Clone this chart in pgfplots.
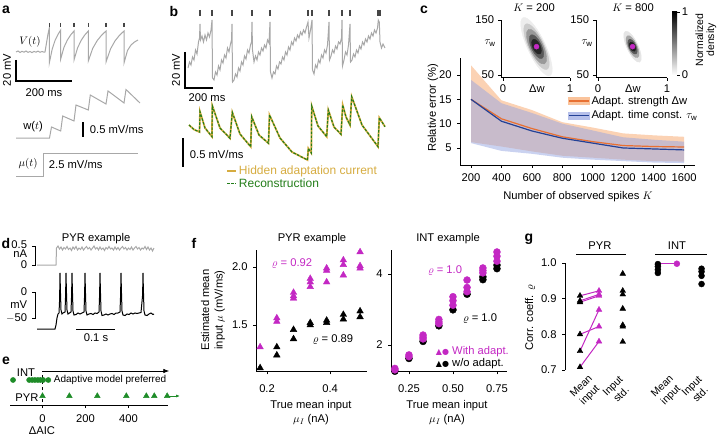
\documentclass[border=0pt]{standalone}
\usepackage{pgfplots}
\pgfplotsset{compat=1.18}
\usepackage{fontspec}
\setmainfont{Liberation Sans}
\newfontfamily\dejavu{DejaVu Sans}
\usetikzlibrary{arrows.meta}
\definecolor{tgray}{RGB}{168,168,168}
\definecolor{tickgray}{RGB}{70,70,70}
\definecolor{mag}{RGB}{195,40,195}
\definecolor{egreen}{RGB}{30,140,40}
\definecolor{bgreen}{RGB}{35,125,25}
\definecolor{byellow}{RGB}{214,172,64}
\definecolor{orL}{RGB}{232,112,50}
\definecolor{orB}{RGB}{250,195,155}
\definecolor{blL}{RGB}{35,65,150}
\definecolor{blB}{RGB}{150,165,225}
\pgfplotsset{
  /pgf/number format/assume math mode=true,
  /pgf/number format/1000 sep={},
  myax/.style={scale only axis, clip=false, tick align=outside, major tick length=3bp,
    every tick/.style={black, line width=0.6bp}, axis line style={line width=0.6bp},
    axis x line*=bottom, axis y line*=left},
}
\newcommand{\plab}[3]{\node[font=\fontsize{14bp}{16bp}\selectfont\bfseries] at (#1,#2) {#3};}
\newcommand{\efont}{\fontsize{10bp}{12bp}\selectfont}
\newcommand{\bfont}{\fontsize{12bp}{14bp}\selectfont}
\newcommand{\gfont}{\fontsize{10.5bp}{12bp}\selectfont}
\begin{document}
\fontsize{11.2bp}{13.4bp}\selectfont
\begin{tikzpicture}[x=1bp,y=1bp]

% ================= canvas (pixel coordinates) =================
\begin{axis}[at={(0bp,0bp)}, anchor=south west, scale only axis, width=717bp, height=436bp,
  xmin=0, xmax=717, ymin=0, ymax=436, y dir=reverse, axis lines=none, clip=false]
% ---- panel labels
\plab{6}{10}{a}\plab{174}{11}{b}\plab{424}{10}{c}\plab{6}{243}{d}\plab{6}{361}{e}\plab{194}{243}{f}\plab{529}{239}{g}
% ---- panel a
\addplot[tgray, line width=1bp] coordinates {(16,52)(18,51)(20,52.5)(22,51.3)(24,52.2)(26,51)(28,52.4)(30,51.5)(32,52.6)(34,51.4)(36,52.2)(38,51.1)(40,52.3)(42,51.5)(44,52.2)(45,52)(46,46)(47,40)(48,34)(49.3,28)(49.3,63)(52.2,49.1)(55,40.6)(57.9,34.6)(60.7,30)(60.7,59)(64,47.2)(67.4,40)(70.7,34.9)(74,31)(74,60)(77.6,47.8)(81.2,40.3)(84.7,35.1)(88.3,31)(88.3,61)(92.7,48.4)(97.2,40.6)(101.6,35.2)(106,31)(106,62)(110.5,49)(115,40.9)(119.5,35.3)(124,31)(124,63)(127.5,50.5)(131,45)(134.5,42)(138,40)};
\addplot[only marks, mark=|, mark size=2.3bp, mark options={line width=1.2bp, draw=tickgray}] coordinates {(49.3,25.2)(60.7,25.2)(74,25.2)(88.3,25.2)(106,25.2)(124,25.2)};
\addplot[tgray, line width=1bp] coordinates {(16,138)(49.5,138)(51.5,127)(60.7,131)(62.7,116)(74,121)(76,105)(88.3,110)(90.3,95)(106,104)(108,91)(124,103)(126,89.5)(140,103)};
\addplot[tgray, line width=1bp] coordinates {(16,176)(43,176)(43,153)(138,153)};
\draw[line width=1.3bp] (16,60)--(16,81)--(72,81);
\draw[line width=1.3bp] (83,122)--(83,137);
\node[rotate=90] at (7,70) {20 mV};
\node at (44,93) {200 ms};
\node at (30,42) {$V(t)$};
\node at (33,127) {w($t$)};
\node[anchor=west] at (86,129) {0.5 mV/ms};
\node at (28,164) {$\mu(t)$};
\node[anchor=west] at (45,164) {2.5 mV/ms};
% ---- panel b
\addplot[tgray, line width=1bp] coordinates {(188,68)(189.5,62)(191,65)(192.5,57)(194,60)(195.5,50)(197,54)(198.5,42)(199.5,38)(200,24)(200.5,40)(202,36)(203.5,42)(205,35)(206.5,40)(208,33)(209.5,37)(211,30)(212,20)(212.5,78)(214,80)(215.5,72)(217,75)(218.5,66)(220,70)(221.5,60)(223,63)(224.5,55)(226,58)(227.5,48)(229,52)(230.5,44)(231.5,40)(232,24)(232.5,82)(234,80)(235.5,74)(237,77)(238.5,68)(240,71)(241.5,62)(243,65)(244.5,56)(246,59)(247.5,50)(249,53)(250.5,45)(251.5,42)(252,22)(252.5,50)(254,62)(255.5,56)(257,60)(258.5,52)(260,55)(261.5,48)(263,51)(264.5,45)(266,48)(267.5,40)(269,43)(270,22)(270.5,72)(272,78)(273.5,72)(275,74)(276.5,66)(278,69)(279.5,62)(281,64)(282.5,57)(284,60)(285.5,52)(287,55)(288.5,47)(290,50)(291.5,42)(293,45)(294.5,38)(296,41)(297.5,35)(299,38)(300.5,32)(302,35)(303.5,30)(305,33)(306.5,27)(308,22)(309,38)(310.5,30)(312,20)(312.5,70)(314,74)(315.5,65)(317,68)(318.5,60)(320,63)(321.5,55)(323,58)(324.5,50)(326,53)(327.5,45)(329,22)(329.5,60)(331,56)(332.5,50)(334,53)(335.5,46)(337,49)(338.5,42)(340,44)(341.5,38)(342,20)(342.5,66)(344,60)(345.5,52)(347,55)(348.5,45)(350,24)(350.5,62)(352,60)(353.5,54)(355,57)(356.5,50)(358,53)(359.5,46)(361,49)(362.5,42)(364,45)(365.5,39)(367,42)(368.5,36)(370,39)(371.5,33)(373,36)(374.5,30)(376,33)(377.5,28)(378.3,20)(379.3,22)(380,42)(381.5,48)(383,44)(385,48)};
\addplot[only marks, mark=|, mark size=3bp, mark options={line width=1.2bp, draw=tickgray}] coordinates {(200,13)(212,13)(232,13)(252,13)(270,13)(308,13)(312,13)(329,13)(342,13)(350,13)(378,13)(380,13)};
\addplot[byellow, line width=1.8bp] coordinates {(189,125)(194,129.5)(199.5,132)(200,111.7)(205,128)(212,136.7)(212.3,105.7)(220,128)(230,138.3)(232.3,112.3)(240,134)(250.7,146.7)(251.7,116.7)(259,135)(268.5,143.3)(269.5,115)(280,138)(292,152)(307.5,160)(308.3,148.3)(311.3,153)(311.7,106)(318,126)(326.7,136.7)(328.3,110)(334,127)(341,134.3)(342.7,105)(346,117)(350,125)(351.7,96.7)(362,125)(378,146.7)(379.3,117.7)(385,126.7)};
\addplot[bgreen, line width=1.1bp, dash pattern=on 2.5bp off 1.5bp] coordinates {(189,125)(194,129.5)(199.5,132)(200,111.7)(205,128)(212,136.7)(212.3,105.7)(220,128)(230,138.3)(232.3,112.3)(240,134)(250.7,146.7)(251.7,116.7)(259,135)(268.5,143.3)(269.5,115)(280,138)(292,152)(307.5,160)(308.3,148.3)(311.3,153)(311.7,106)(318,126)(326.7,136.7)(328.3,110)(334,127)(341,134.3)(342.7,105)(346,117)(350,125)(351.7,96.7)(362,125)(378,146.7)(379.3,117.7)(385,126.7)};
\draw[line width=1.3bp] (185,52)--(185,88)--(213,88);
\node[rotate=90] at (176,70) {20 mV};
\node at (207,98) {200 ms};
\draw[line width=1.3bp] (183,138)--(183,167);
\node[anchor=west] at (186,154) {0.5 mV/ms};
\draw[byellow, line width=1.2bp] (227,171)--(236,171);
\node[anchor=west, byellow, font=\bfont] at (235,171) {Hidden adaptation current};
\draw[bgreen, line width=1.2bp, dash pattern=on 2.5bp off 1.5bp] (227,183.5)--(236,183.5);
\node[anchor=west, bgreen, font=\bfont] at (235,183.5) {Reconstruction};
% ---- panel c texts
\node at (534,8) {$K$ = 200};
\node at (633,8) {$K$ = 800};
\node at (490,43) {$\tau_{\mathrm{w}}$};
\node at (587,43) {$\tau_{\mathrm{w}}$};
\node at (537,89) {Δw};
\node at (633,89) {Δw};
\shade[top color=black, bottom color=white] (672,12) rectangle (677,75);
\draw[line width=0.5bp] (677,12)--(680,12) (677,75)--(680,75);
\node at (685,12) {1};
\node at (685,75) {0};
\node[rotate=90, align=center, font=\fontsize{10.5bp}{11bp}\selectfont] at (706,40) {Normalized\\density};
\node[rotate=90] at (433,108) {Relative error (\%)};
\node at (578,197) {Number of observed spikes $K$};
% ---- panel d
\node[anchor=west] at (58,239) {PYR example};
\addplot[tgray, line width=1bp] coordinates {(37,265)(56,265)(56.5,248)(58,246)(59.5,249)(61,247)(62.5,250)(64,247.5)(65.5,249)(67,246.5)(68.5,249.5)(70,248)(71.5,250.5)(73,247)(74.5,249)(76,246.5)(77.5,250)(79,248)(80.5,249.5)(82,247)(83.5,250)(85,248)(86.5,246.5)(88,249)(89.5,247.5)(91,250)(92.5,248)(94,246)(95.5,249)(97,247.5)(98.5,250)(100,247)(101.5,249.5)(103,248)(104.5,250.5)(106,247.5)(107.5,249)(109,246.5)(110.5,249)(112,248)(113.5,250)(115,247)(116.5,249.5)(118,247.5)(119.5,250)(121,248)(122.5,246.5)(124,249)(125.5,247.5)(127,250)(128.5,248)(130,249.5)(131.5,247)(133,250)(134.5,248)(136,246.5)(137.5,249)(139,247.5)(140.5,250)(142,248)(143.5,249)(145,246.5)(146.5,249.5)(148,247)(149.5,250)(151,248)(152.5,251)(154,248)};
\addplot[black, line width=1bp] coordinates {(37,329)(55,329)(56,325)(57,318)(58,314)(59,313)(59.6,300)(60,273)(60.4,290)(61,310)(62,314)(63,313)(65,312)(65.6,295)(66,273)(66.4,290)(67,310)(68,314)(69.5,313)(71,312)(71.6,295)(72,273)(72.4,290)(73,311)(74,315)(76,314.5)(78,313)(80,314)(82,313)(84,312)(84.6,295)(85,273)(85.4,290)(86,311)(87,315)(89,314)(91,313.5)(93,314.5)(95,313)(97,313.5)(99,312)(99.6,295)(100,273)(100.4,290)(101,311)(102,315.5)(104,315)(106,314)(108,315)(110,314)(112,313.5)(114,314.5)(116,313)(118,313)(120,312)(120.6,295)(121,273)(121.4,290)(122,311)(123,315)(125,315.5)(127,314)(129,314.5)(131,313)(133,314)(135,313)(137,313.5)(139,313)(141,312.5)(142.6,295)(143,273)(143.4,290)(144,311)(145,315)(147,315.5)(149,314)(151,313)(153,314.5)(154,314)};
\draw[line width=0.8bp] (32,246)--(35,246)--(35,265)--(32,265);
\node[anchor=east] at (31,245) {0.5};
\node[anchor=east] at (31,254) {nA};
\node[anchor=east] at (31,265) {0};
\draw[line width=0.8bp] (32,292)--(35,292)--(35,318)--(32,318);
\node[anchor=east] at (31,292) {0};
\node[anchor=east] at (31,305) {mV};
\node[anchor=east] at (31,318) {$-$50};
\draw[line width=1bp] (76,329)--(115,329);
\node at (96,338) {0.1 s};
% ---- panel e texts
\node at (26,373) {INT};
\node at (27,398) {PYR};
\node[anchor=west, font=\efont] at (50,380) {Adaptive model preferred};
\node at (42,431) {ΔAIC};
% ---- panel f texts
\node at (312,239) {PYR example};
\node at (448,239) {INT example};
\node[rotate=90, align=center] at (213,310) {Estimated mean\\input $\mu$ (mV/ms)};
\node[mag] at (292,264) {$\varrho$ = 0.92};
\node at (333,340) {$\varrho$ = 0.89};
\node[mag] at (445,271) {$\varrho$ = 1.0};
\node at (480,319) {$\varrho$ = 1.0};
\node[anchor=west, mag] at (432,352) {{\dejavu\fontsize{8bp}{8bp}\selectfont ▲●} With adapt.};
\node[anchor=west] at (432,364) {{\dejavu\fontsize{8bp}{8bp}\selectfont ▲●} w/o adapt.};
\node at (311,406) {True mean input};
\node at (311,420) {$\mu_I$ (nA)};
\node at (447,406) {True mean input};
\node at (447,420) {$\mu_I$ (nA)};
% ---- panel g texts
\node at (600,246) {PYR};
\draw[line width=1bp] (576,254)--(626,254);
\node at (677,246) {INT};
\draw[line width=1bp] (655,254)--(707,254);
\node[rotate=90] at (530,318) {Corr. coeff. $\varrho$};
\node[rotate=45, anchor=east, align=center, font=\gfont] at (598,379) {Mean\\input};
\node[rotate=45, anchor=east, align=center, font=\gfont] at (628,379) {Input\\std.};
\node[rotate=45, anchor=east, align=center, font=\gfont] at (679,379) {Mean\\input};
\node[rotate=45, anchor=east, align=center, font=\gfont] at (707,379) {Input\\std.};
\end{axis}

% ================= panel c main =================
\begin{axis}[myax, at={(460bp,271bp)}, anchor=south west, width=235bp, height=107bp,
  xmin=127.7, xmax=1672, ymin=1.5, ymax=23.5,
  xtick={200,400,...,1600}, ytick={5,10,15,20}, xticklabel shift={2bp}, yticklabel shift={1.5bp},
  legend style={at={(0.46,0.665)}, anchor=north west, draw=none, fill=none, inner sep=0pt, row sep=1bp},
  legend cell align=left]
\addplot[draw=none, fill=orB, fill opacity=0.75, forget plot] coordinates {(200,22)(400,14.8)(600,12.8)(800,10.3)(1000,9.2)(1200,8.0)(1400,7.6)(1600,7.3)(1600,2.2)(1400,2.3)(1200,2.6)(1000,3.0)(800,3.4)(600,4.3)(400,5.3)(200,6.2)};
\addplot[draw=none, fill=blB, fill opacity=0.5, forget plot] coordinates {(200,19)(400,14.2)(600,12.2)(800,10.0)(1000,8.6)(1200,7.2)(1400,6.7)(1600,6.3)(1600,1.9)(1400,2.0)(1200,2.3)(1000,2.6)(800,3.0)(600,3.8)(400,4.4)(200,6.0)};
\addplot[orL, line width=1.2bp, legend image code/.code={\fill[orB] (0bp,-3.5bp) rectangle (20bp,3.5bp); \draw[orL, line width=1.2bp] (0bp,0bp)--(20bp,0bp);}] coordinates {(200,15.0)(400,11.0)(600,9.0)(800,7.3)(1000,6.3)(1200,5.5)(1400,5.3)(1600,5.2)};
\addlegendentry{Adapt. strength Δw}
\addplot[blL, line width=1.2bp, legend image code/.code={\fill[blB!70] (0bp,-3.5bp) rectangle (20bp,3.5bp); \draw[blL, line width=1.2bp] (0bp,0bp)--(20bp,0bp);}] coordinates {(200,15.0)(400,10.5)(600,8.5)(800,7.0)(1000,6.0)(1200,5.0)(1400,4.8)(1600,4.6)};
\addlegendentry{Adapt. time const. $\tau_{\mathrm{w}}$}
\end{axis}

% ================= panel c insets =================
\begin{axis}[myax, at={(501bp,358.25bp)}, anchor=south west, width=69bp, height=57.75bp,
  xmin=-0.03, xmax=1, ymin=45, ymax=150, xtick={0,1}, ytick={50,150}]
\addplot[only marks, mark=*, mark size=32bp, mark options={draw=black!7, fill=black!7, rotate=25, xscale=0.28}] coordinates {(0.5,101.5)};
\addplot[only marks, mark=*, mark size=25bp, mark options={draw=black!20, fill=black!20, rotate=25, xscale=0.31}] coordinates {(0.5,101.5)};
\addplot[only marks, mark=*, mark size=19bp, mark options={draw=black!40, fill=black!40, rotate=25, xscale=0.35}] coordinates {(0.5,101.5)};
\addplot[only marks, mark=*, mark size=13bp, mark options={draw=black!65, fill=black!65, rotate=25, xscale=0.4}] coordinates {(0.5,101.5)};
\addplot[only marks, mark=*, mark size=8bp, mark options={draw=black!85, fill=black!85, rotate=25, xscale=0.48}] coordinates {(0.5,101.5)};
\addplot[only marks, mark=*, mark size=2.5bp, mark options={draw=mag, fill=mag}] coordinates {(0.5,101.5)};
\end{axis}
\begin{axis}[myax, at={(596bp,358.25bp)}, anchor=south west, width=71bp, height=57.75bp,
  xmin=-0.03, xmax=1, ymin=45, ymax=150, xtick={0,1}, ytick={50,150}]
\addplot[only marks, mark=*, mark size=17bp, mark options={draw=black!10, fill=black!10, rotate=25, xscale=0.33}] coordinates {(0.5,101.5)};
\addplot[only marks, mark=*, mark size=12bp, mark options={draw=black!35, fill=black!35, rotate=25, xscale=0.38}] coordinates {(0.5,101.5)};
\addplot[only marks, mark=*, mark size=8bp, mark options={draw=black!65, fill=black!65, rotate=25, xscale=0.45}] coordinates {(0.5,101.5)};
\addplot[only marks, mark=*, mark size=5bp, mark options={draw=black!88, fill=black!88, rotate=25, xscale=0.55}] coordinates {(0.5,101.5)};
\addplot[only marks, mark=*, mark size=2.5bp, mark options={draw=mag, fill=mag}] coordinates {(0.5,101.5)};
\end{axis}

% ================= panel e =================
\begin{axis}[myax, at={(10.25bp,31bp)}, anchor=south west, width=158bp, height=40bp,
  xmin=-150, xmax=585, ymin=0, ymax=40, axis y line=none, xtick={0,200,400}, xticklabel shift={2.5bp}]
\draw[dashed, line width=0.8bp] (axis cs:0,3) -- (axis cs:0,34);
\draw[line width=0.8bp, -{Latex[length=6bp]}] (axis cs:0,34) -- (axis cs:590,34);
\addplot[only marks, mark=*, mark size=2.6bp, egreen] coordinates {(-137,25)(-62,25)(-48,25)(-35,25)(-22,25)(-10,25)(3,25)(27,25)};
\addplot[only marks, mark=triangle*, mark size=3.3bp, egreen] coordinates {(0,9)(125,9)(255,9)(390,9)(483,9)(520,9)(580,9)};
\draw[egreen, line width=1bp, -{Latex[length=4bp]}] (axis cs:588,9) -- (axis cs:640,9);
\end{axis}

% ================= panel f =================
\begin{axis}[myax, at={(256bp,64.6bp)}, anchor=south west, width=111bp, height=121.4bp,
  xmin=0.165, xmax=0.517, ymin=1.10, ymax=2.147, xtick={0.2,0.4}, xticklabels={0.2,0.4},
  ytick={1.5,2.0}, yticklabels={1.5,2.0}, xticklabel shift={6bp}, yticklabel shift={1.5bp}]
\addplot[only marks, mark=triangle*, mark size=3.8bp, black] coordinates {(0.178,1.13)(0.231,1.31)(0.231,1.24)(0.284,1.46)(0.284,1.38)(0.337,1.52)(0.337,1.50)(0.389,1.54)(0.389,1.52)(0.442,1.59)(0.442,1.55)(0.495,1.62)(0.495,1.57)};
\addplot[only marks, mark=triangle*, mark size=3.8bp, mag] coordinates {(0.178,1.31)(0.231,1.56)(0.231,1.53)(0.284,1.78)(0.284,1.75)(0.284,1.73)(0.337,1.90)(0.337,1.87)(0.337,1.83)(0.389,1.99)(0.389,1.97)(0.389,1.87)(0.442,2.06)(0.442,2.02)(0.442,1.93)(0.495,2.13)(0.495,2.01)(0.495,1.99)};
\end{axis}
\begin{axis}[myax, at={(391bp,64.6bp)}, anchor=south west, width=116bp, height=121.4bp,
  xmin=0.148, xmax=0.807, ymin=1.256, ymax=4.676, xtick={0.25,0.5,0.75}, xticklabels={0.25,0.50,0.75},
  ytick={2,4}, xticklabel shift={6bp}, yticklabel shift={1.5bp}]
\addplot[only marks, mark=*, mark size=3.5bp, black] coordinates {(0.17,1.26)(0.25,1.62)(0.33,2.10)(0.42,2.54)(0.5,2.99)(0.58,3.43)(0.67,3.92)(0.67,3.84)(0.75,4.25)(0.75,4.15)};
\addplot[only marks, mark=*, mark size=3.5bp, mag] coordinates {(0.17,1.34)(0.17,1.30)(0.25,1.72)(0.25,1.67)(0.33,2.28)(0.33,2.22)(0.33,2.17)(0.42,2.72)(0.42,2.65)(0.42,2.60)(0.5,3.36)(0.5,3.25)(0.5,3.12)(0.58,3.83)(0.58,3.62)(0.58,3.50)(0.67,4.17)(0.67,4.10)(0.67,4.03)(0.75,4.62)(0.75,4.50)(0.75,4.36)};
\end{axis}

% ================= panel g =================
\begin{axis}[myax, at={(565bp,66bp)}, anchor=south west, width=147bp, height=107bp,
  xmin=-0.79, xmax=6.95, ymin=0.7, ymax=1.0, axis x line=none,
  ytick={0.7,0.8,0.9,1.0}, yticklabels={0.7,0.8,0.9,1.0}, yticklabel shift={1.5bp}]
\addplot[mag, line width=1bp] coordinates {(0,0.908)(1,0.922)};
\addplot[mag, line width=1bp] coordinates {(0,0.894)(1,0.912)};
\addplot[mag, line width=1bp] coordinates {(0,0.890)(1,0.908)};
\addplot[mag, line width=1bp] coordinates {(0,0.800)(1,0.822)};
\addplot[mag, line width=1bp] coordinates {(0,0.753)(1,0.869)};
\addplot[mag, line width=1bp] coordinates {(0,0.708)(1,0.780)};
\addplot[only marks, mark=triangle*, mark size=3.3bp, black] coordinates {(0,0.908)(0,0.894)(0,0.890)(0,0.800)(0,0.753)(0,0.708)};
\addplot[only marks, mark=triangle*, mark size=3.3bp, mag] coordinates {(1,0.922)(1,0.912)(1,0.908)(1,0.822)(1,0.869)(1,0.780)};
\addplot[only marks, mark=triangle*, mark size=3.3bp, black] coordinates {(2.25,0.970)(2.25,0.922)(2.25,0.912)(2.25,0.872)(2.25,0.826)(2.25,0.822)(2.25,0.779)};
\addplot[mag, line width=1bp] coordinates {(4.1,0.998)(5.1,0.998)};
\addplot[only marks, mark=*, mark size=3bp, black] coordinates {(4.1,0.997)(4.1,0.990)(4.1,0.981)(4.1,0.972)};
\addplot[only marks, mark=*, mark size=3bp, mag] coordinates {(5.1,0.998)};
\addplot[only marks, mark=*, mark size=3bp, black] coordinates {(6.4,0.984)(6.4,0.976)(6.4,0.964)(6.4,0.941)};
\end{axis}

\pgfresetboundingbox
\path[use as bounding box] (0bp,0bp) rectangle (717bp,436bp);
\end{tikzpicture}
\end{document}
